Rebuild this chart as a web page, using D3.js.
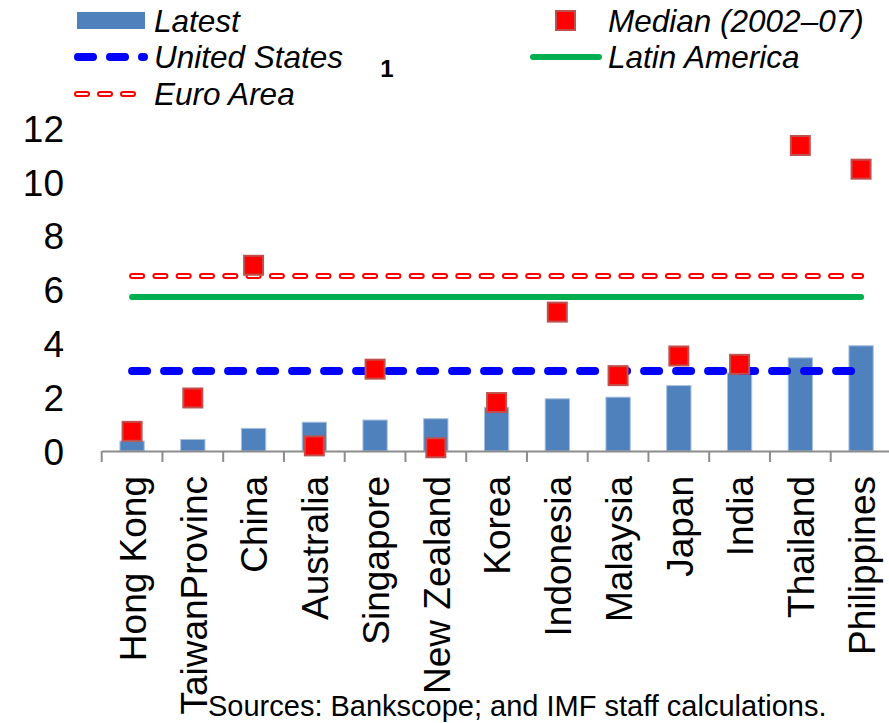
<!DOCTYPE html>
<html>
<head>
<meta charset="utf-8">
<script src="https://cdn.jsdelivr.net/npm/d3@7"></script>
<style>
  body { margin: 0; background: #fff; }
  svg { display: block; font-family: "Liberation Sans", Arial, sans-serif; }
</style>
</head>
<body>
<svg id="chart" width="889" height="723"></svg>
<script>
// data
var categories = ["Hong Kong", "TaiwanProvinc", "China", "Australia", "Singapore", "New Zealand",
  "Korea", "Indonesia", "Malaysia", "Japan", "India", "Thailand", "Philippines"];
var latest = [0.37, 0.43, 0.84, 1.07, 1.15, 1.2, 1.62, 1.94, 2.0, 2.43, 2.9, 3.46, 3.91];
var median = [0.73, 1.97, 6.9, 0.19, 3.04, 0.12, 1.8, 5.16, 2.8, 3.53, 3.22, 11.35, 10.47];
var unitedStates = 2.97;
var euroArea = 6.5;
var latinAmerica = 5.72;
var yTicks = [0, 2, 4, 6, 8, 10, 12];

var svg = d3.select("#chart");

var x = d3.scaleBand().domain(categories).range([101.7, 891.45]).padding(0);
var y = d3.scaleLinear().domain([0, 12]).range([451, 128]);
var bw = x.bandwidth();
var cx = function(c) { return x(c) + bw / 2; };

// y axis labels only
var yAxis = svg.append("g")
  .attr("transform", "translate(64,0)")
  .call(d3.axisLeft(y).tickValues(yTicks).tickSize(0).tickPadding(0));
yAxis.select(".domain").remove();
yAxis.selectAll("text")
  .attr("font-size", 37)
  .attr("font-family", "Liberation Sans, Arial, sans-serif")
  .attr("fill", "#000")
  .attr("dy", "0.36em");

// bars
svg.selectAll(".bar")
  .data(latest)
  .enter().append("rect")
  .attr("class", "bar")
  .attr("x", function(d, i) { return cx(categories[i]) - bw * 0.2; })
  .attr("width", bw * 0.4)
  .attr("y", function(d) { return y(d); })
  .attr("height", function(d) { return y(0) - y(d); })
  .attr("fill", "#4F81BD")
  .attr("stroke", "#A9C1E0")
  .attr("stroke-width", 1);

// x axis: line + ticks at band boundaries
var xAxis = svg.append("g")
  .attr("transform", "translate(0," + y(0) + ")")
  .call(d3.axisBottom(x).tickSize(0).tickSizeOuter(0).tickFormat(""));
xAxis.select(".domain").attr("stroke", "#8C8C8C").attr("stroke-width", 2);
xAxis.selectAll(".tick").remove();
xAxis.selectAll(".btick")
  .data(categories)
  .enter().append("line")
  .attr("x1", function(d) { return x(d); })
  .attr("x2", function(d) { return x(d); })
  .attr("y1", 0)
  .attr("y2", 11)
  .attr("stroke", "#8C8C8C")
  .attr("stroke-width", 2);

// category labels
svg.selectAll(".cat")
  .data(categories)
  .enter().append("text")
  .attr("class", "cat")
  .attr("transform", function(d) { return "translate(" + cx(d) + ",476) rotate(-90)"; })
  .attr("text-anchor", "end")
  .attr("dy", "0.37em")
  .attr("font-size", 37)
  .text(function(d) { return d; });

// reference lines
var flat = function(v) {
  return d3.line().x(function(d) { return cx(d); }).y(function() { return y(v); });
};
var ends = [categories[0], categories[categories.length - 1]];

svg.append("path").datum(ends)
  .attr("d", flat(euroArea))
  .attr("fill", "none").attr("stroke", "#FF0000").attr("stroke-width", 6)
  .attr("stroke-linecap", "round").attr("stroke-dasharray", "10,13.3");
svg.append("path").datum(ends)
  .attr("d", flat(euroArea))
  .attr("fill", "none").attr("stroke", "#fff").attr("stroke-width", 2)
  .attr("stroke-linecap", "round").attr("stroke-dasharray", "10,13.3");

svg.append("path").datum(ends)
  .attr("d", flat(latinAmerica))
  .attr("fill", "none").attr("stroke", "#00B050").attr("stroke-width", 6)
  .attr("stroke-linecap", "round");

svg.append("path").datum(ends)
  .attr("d", flat(unitedStates))
  .attr("fill", "none").attr("stroke", "#0000FF").attr("stroke-width", 8)
  .attr("stroke-linecap", "round").attr("stroke-dasharray", "15,17");

// median markers
svg.selectAll(".med")
  .data(median)
  .enter().append("rect")
  .attr("class", "med")
  .attr("x", function(d, i) { return cx(categories[i]) - 9.5; })
  .attr("y", function(d) { return y(d) - 9.5; })
  .attr("width", 19)
  .attr("height", 19)
  .attr("fill", "#FF0000")
  .attr("stroke", "#C0504D")
  .attr("stroke-width", 2);

// legend
var leg = svg.append("g").attr("font-size", 31.5).attr("font-style", "italic");
leg.append("rect").attr("x", 77).attr("y", 12).attr("width", 68).attr("height", 17).attr("fill", "#4F81BD");
leg.append("text").attr("x", 154).attr("y", 32).text("Latest");

leg.append("line").attr("x1", 78).attr("x2", 144).attr("y1", 57).attr("y2", 57)
  .attr("stroke", "#0000FF").attr("stroke-width", 8)
  .attr("stroke-linecap", "round").attr("stroke-dasharray", "15,17");
leg.append("text").attr("x", 154).attr("y", 68).text("United States");

leg.append("line").attr("x1", 77).attr("x2", 134).attr("y1", 94).attr("y2", 94)
  .attr("stroke", "#FF0000").attr("stroke-width", 6)
  .attr("stroke-linecap", "round").attr("stroke-dasharray", "10,13");
leg.append("line").attr("x1", 77).attr("x2", 134).attr("y1", 94).attr("y2", 94)
  .attr("stroke", "#fff").attr("stroke-width", 2)
  .attr("stroke-linecap", "round").attr("stroke-dasharray", "10,13");
leg.append("text").attr("x", 154).attr("y", 105).text("Euro Area");

leg.append("rect").attr("x", 556).attr("y", 11).attr("width", 19).attr("height", 19)
  .attr("fill", "#FF0000").attr("stroke", "#C0504D").attr("stroke-width", 2);
leg.append("text").attr("x", 608).attr("y", 32).text("Median (2002\u201307)");

leg.append("line").attr("x1", 533).attr("x2", 599).attr("y1", 57).attr("y2", 57)
  .attr("stroke", "#00B050").attr("stroke-width", 6).attr("stroke-linecap", "round");
leg.append("text").attr("x", 608).attr("y", 68).text("Latin America");

svg.append("text").attr("x", 387).attr("y", 77).attr("text-anchor", "middle")
  .attr("font-size", 24).attr("font-weight", "bold").text("1");

// source note, lifted a little so its descenders stay inside the frame
svg.append("text").attr("x", 208).attr("y", 716).attr("font-size", 29)
  .text("Sources: Bankscope; and IMF staff calculations.");
</script>
</body>
</html>
